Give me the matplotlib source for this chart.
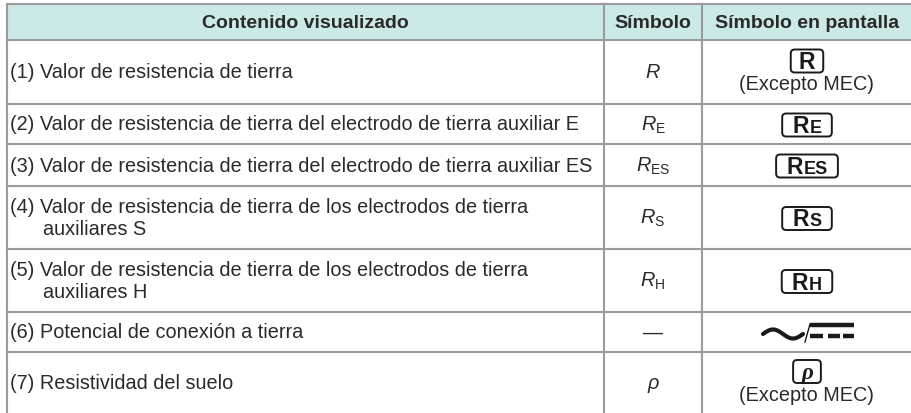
import matplotlib
matplotlib.use("Agg")
import matplotlib.pyplot as plt
from matplotlib.patches import Rectangle, FancyBboxPatch
import numpy as np

plt.rcParams["mathtext.fontset"] = "custom"
plt.rcParams["mathtext.rm"] = "Liberation Sans"
plt.rcParams["mathtext.it"] = "Liberation Sans:italic"

# table content
headers = ["Contenido visualizado", "Símbolo", "Símbolo en pantalla"]
contents = [
    "(1) Valor de resistencia de tierra",
    "(2) Valor de resistencia de tierra del electrodo de tierra auxiliar E",
    "(3) Valor de resistencia de tierra del electrodo de tierra auxiliar ES",
    "(4) Valor de resistencia de tierra de los electrodos de tierra\n      auxiliares S",
    "(5) Valor de resistencia de tierra de los electrodos de tierra\n      auxiliares H",
    "(6) Potencial de conexión a tierra",
    "(7) Resistividad del suelo",
]
symbols = [r"$R$", r"$R_{\mathrm{E}}$", r"$R_{\mathrm{ES}}$", r"$R_{\mathrm{S}}$",
           r"$R_{\mathrm{H}}$", "—", "ρ"]
screen_main = ["R", "R", "R", "R", "R", None, "ρ"]
screen_sub = ["", "E", "ES", "S", "H", None, ""]
screen_note = ["(Excepto MEC)", "", "", "", "", "", "(Excepto MEC)"]

W, H = 912, 413
col_x = [7, 604, 702, 912]
row_y = [4, 40, 104, 144, 186, 249, 312, 352, 413]

line_c = "#9b9b9b"
head_c = "#cbe9e6"
txt_c = "#2a2a2a"
body_fs = 14.3

fig = plt.figure(figsize=(W / 100, H / 100), dpi=100)
ax = fig.add_axes([0, 0, 1, 1])
ax.set_xlim(0, W)
ax.set_ylim(H, 0)
ax.axis("off")

# header background
ax.add_patch(Rectangle((col_x[0], row_y[0]), col_x[-1] - col_x[0], row_y[1] - row_y[0],
                       facecolor=head_c, edgecolor="none", zorder=0))

# grid lines
for y in row_y[:-1]:
    ax.plot([col_x[0], col_x[-1]], [y, y], color=line_c, lw=1.5, zorder=1)
for x in col_x[:-1]:
    ax.plot([x, x], [row_y[0], row_y[-1]], color=line_c, lw=1.5, zorder=1)

# header text
for i, h in enumerate(headers):
    xc = (col_x[i] + col_x[i + 1]) / 2
    ax.text(xc, (row_y[0] + row_y[1]) / 2 + 1, h, ha="center", va="center",
            fontsize=14, fontweight="bold", family="Liberation Sans", color=txt_c)

fig.canvas.draw()
renderer = fig.canvas.get_renderer()


def boxed(xc, yc, main, sub, family, style):
    big, small = 16.5, 13
    t1 = ax.text(0, 0, main, fontsize=big, fontweight="bold", family=family,
                 style=style, color="#1a1a1a", ha="left", va="baseline")
    w1 = t1.get_window_extent(renderer).width
    w2 = 0
    t2 = None
    if sub:
        t2 = ax.text(0, 0, sub, fontsize=small, fontweight="bold", family="Liberation Sans",
                     color="#1a1a1a", ha="left", va="baseline")
        w2 = t2.get_window_extent(renderer).width + 1
    w = w1 + w2
    x0 = xc - w / 2
    base = yc + 8
    t1.set_position((x0, base))
    if t2 is not None:
        t2.set_position((x0 + w1 + 1, base))
    pad = 10 if sub else 8
    bh = 23
    ax.add_patch(FancyBboxPatch((x0 - pad + 2, yc - bh / 2 + 2), w + 2 * pad - 4, bh - 4,
                                boxstyle="round,pad=2,rounding_size=4",
                                facecolor="none", edgecolor="#1a1a1a", lw=1.4, zorder=3))


def acdc(xc, yc):
    # sine wave, slash, solid and dashed bars
    xs = np.linspace(xc - 44, xc - 4, 60)
    ys = yc + 1 - 4.5 * np.sin((xs - (xc - 44)) / 40 * 2 * np.pi)
    ax.plot(xs, ys, color="#1a1a1a", lw=3, solid_capstyle="round")
    ax.plot([xc - 2, xc + 3], [yc + 9, yc - 9], color="#1a1a1a", lw=1)
    ax.plot([xc + 3, xc + 47], [yc - 8, yc - 8], color="#1a1a1a", lw=3.2, solid_capstyle="butt")
    for a, b in [(3, 16), (21, 33), (36, 47)]:
        ax.plot([xc + a, xc + b], [yc + 2.5, yc + 2.5], color="#1a1a1a", lw=3.2,
                solid_capstyle="butt")


# body rows
for r in range(len(contents)):
    y0, y1 = row_y[r + 1], row_y[r + 2]
    yc = (y0 + y1) / 2 + 1
    ax.text(10, yc, contents[r], ha="left", va="center", fontsize=body_fs,
            family="Liberation Sans", color=txt_c, linespacing=1.25)
    sx = (col_x[1] + col_x[2]) / 2
    if symbols[r] == "ρ":
        ax.text(sx, yc, symbols[r], ha="center", va="center", fontsize=body_fs,
                family="Liberation Sans", style="italic", color=txt_c)
    else:
        ax.text(sx, yc, symbols[r], ha="center", va="center", fontsize=body_fs,
                family="Liberation Sans", color=txt_c)
    px = (col_x[2] + col_x[3]) / 2
    if screen_main[r] is None:
        acdc(px, yc)
    elif screen_note[r]:
        if screen_main[r] == "ρ":
            boxed(px, yc - 12, "ρ", "", "Liberation Serif", "italic")
        else:
            boxed(px, yc - 12, screen_main[r], screen_sub[r], "Liberation Sans", "normal")
        ax.text(px, yc + 12, screen_note[r], ha="center", va="center", fontsize=body_fs,
                family="Liberation Sans", color=txt_c)
    else:
        boxed(px, yc, screen_main[r], screen_sub[r], "Liberation Sans", "normal")

fig.savefig("out.png", dpi=100)
